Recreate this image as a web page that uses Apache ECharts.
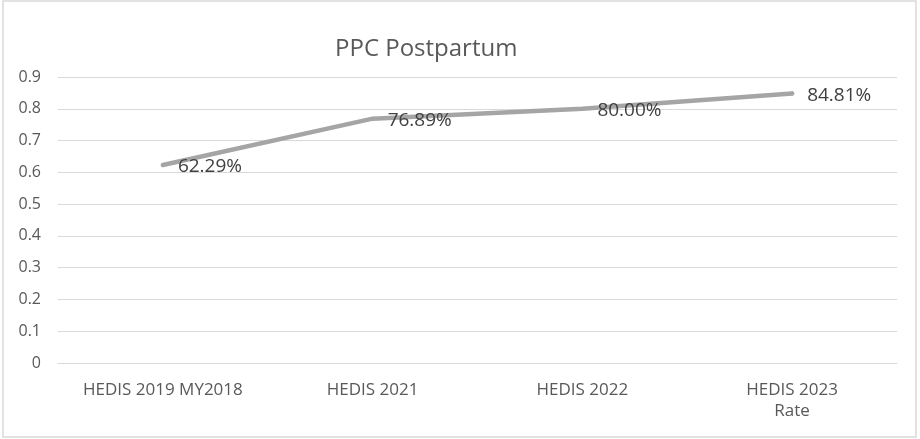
<!DOCTYPE html>
<html>
<head>
<meta charset="utf-8">
<title>PPC Postpartum</title>
<script src="https://cdn.jsdelivr.net/npm/echarts@6/dist/echarts.min.js"></script>
<style>
  html, body { margin: 0; padding: 0; background: #fff; }
  #chart { width: 920px; height: 439px; }
</style>
</head>
<body>
<div id="chart"></div>
<script>
  // 数据
  const categories = ['HEDIS 2019 MY2018', 'HEDIS 2021', 'HEDIS 2022', 'HEDIS 2023\nRate'];
  const rateValues = [0.6229, 0.7689, 0.80, 0.8481];
  const yTicks = { min: 0, max: 0.9, interval: 0.1 };

  const textColor = '#595959';
  const gridColor = '#d9d9d9';
  const font = '"Open Sans", "Liberation Sans", sans-serif';

  const chart = echarts.init(document.getElementById('chart'));
  chart.setOption({
    backgroundColor: '#fff',
    animation: false,
    title: {
      text: 'PPC Postpartum',
      left: 330,
      top: 32,
      textStyle: { fontFamily: font, fontSize: 24, fontWeight: 'normal', color: textColor }
    },
    grid: { left: 58, right: 23, top: 77, bottom: 76 },
    xAxis: {
      type: 'category',
      data: categories,
      axisLine: { lineStyle: { color: gridColor, width: 1 } },
      axisTick: { show: false },
      axisLabel: {
        fontFamily: font, fontSize: 17, color: textColor,
        margin: 17, lineHeight: 21, interval: 0
      }
    },
    yAxis: {
      type: 'value',
      min: yTicks.min,
      max: yTicks.max,
      interval: yTicks.interval,
      axisLine: { show: false },
      axisTick: { show: false },
      splitLine: { lineStyle: { color: gridColor, width: 1 } },
      axisLabel: {
        fontFamily: font, fontSize: 16, color: textColor, margin: 17,
        formatter: v => v === 0 ? '0' : v.toFixed(1)
      }
    },
    graphic: [{
      type: 'rect',
      shape: { x: 3, y: 1, width: 913, height: 436 },
      style: { fill: 'none', stroke: gridColor, lineWidth: 1.5 },
      silent: true
    }],
    series: [{
      name: 'Rate',
      type: 'line',
      data: rateValues,
      symbol: 'circle',
      symbolSize: 4,
      itemStyle: { color: '#a5a5a5' },
      lineStyle: { color: '#a5a5a5', width: 4.5, cap: 'round', join: 'round' },
      label: {
        show: true,
        position: 'right',
        distance: 13,
        offset: [0, 2],
        fontFamily: font,
        fontSize: 19,
        color: '#404040',
        formatter: p => (p.value * 100).toFixed(2) + '%'
      }
    }]
  });
</script>
</body>
</html>
